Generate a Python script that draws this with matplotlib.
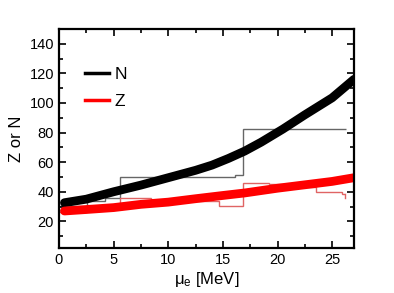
import numpy as np
import matplotlib
matplotlib.use('Agg')
from matplotlib import pyplot as plt
from matplotlib.ticker import MultipleLocator

plt.rcParams['font.family'] = ['Liberation Sans', 'DejaVu Sans']

# smooth N and Z curves vs electron chemical potential
mu_N = [0.5, 2.5, 5, 7.5, 10, 12.5, 14, 15.5, 17, 18.5, 20.5, 22.5, 25, 27]
N_val = [32.6, 35, 40, 44.5, 49.5, 54.5, 58, 62.5, 67.5, 73.5, 82.4, 92, 103.5, 116]

mu_Z = [0.5, 2.5, 5, 7.5, 10, 12.5, 15, 17, 20, 22.5, 25, 27]
Z_val = [27, 28, 29.3, 31.5, 33, 35.3, 37.5, 39.2, 42.4, 44.7, 47, 49.5]

# step lines (bin edges and levels)
N_step_x = [0, 2.6, 4.2, 5.6, 16.15, 16.85, 26.3]
N_step_y = [30.4, 33.6, 36, 50, 51.5, 82.4]

Z_step_x = [0, 2.6, 5.6, 8.45, 11.4, 14.6, 16.85, 19.2, 21.5, 23.5, 25.9, 26.2]
Z_step_y = [26.5, 29, 36, 34.4, 33.5, 30.4, 46.2, 45, 43, 40, 38.5]
Z_end = 36

fig = plt.figure(figsize=(3.94, 2.93), dpi=100)
ax = fig.add_axes([0.1497, 0.1536, 0.7488, 0.7474])

ax.stairs(N_step_y, N_step_x, color='#666666', lw=1.0, baseline=None)
ax.stairs(Z_step_y, Z_step_x, color='#e06464', lw=1.0, baseline=None)
ax.plot([Z_step_x[-1], Z_step_x[-1]], [Z_step_y[-1], Z_end], color='#e06464', lw=1.0)

ax.plot(mu_N, N_val, color='black', lw=6.3, solid_capstyle='round', solid_joinstyle='round')
ax.plot(mu_Z, Z_val, color='red', lw=6.3, solid_capstyle='round', solid_joinstyle='round')

# legend handles
ax.plot([], [], color='black', lw=2.5, label='N')
ax.plot([], [], color='red', lw=2.5, label='Z')
h, l = ax.get_legend_handles_labels()
ax.legend(h[-2:], l[-2:], loc='upper left', bbox_to_anchor=(0.035, 0.9),
          frameon=False, fontsize=12.5, handlelength=1.4, handletextpad=0.3,
          labelspacing=0.7)

ax.set_xlim(0, 27)
ax.set_ylim(2, 150)
ax.xaxis.set_major_locator(MultipleLocator(5))
ax.xaxis.set_minor_locator(MultipleLocator(2.5))
ax.yaxis.set_major_locator(MultipleLocator(20))
ax.yaxis.set_minor_locator(MultipleLocator(10))
ax.set_yticks([20, 40, 60, 80, 100, 120, 140])
ax.tick_params(which='both', direction='in', top=True, right=True, labelsize=10.5, width=1.2)
ax.tick_params(which='major', length=5)
ax.tick_params(which='minor', length=3)
for s in ax.spines.values():
    s.set_linewidth(1.6)

ax.set_xlabel(r'$\mathregular{\mu_e}$ [MeV]', fontsize=12, labelpad=2)
ax.set_ylabel('Z or N', fontsize=12, labelpad=4)

fig.savefig('out.png', dpi=100)
